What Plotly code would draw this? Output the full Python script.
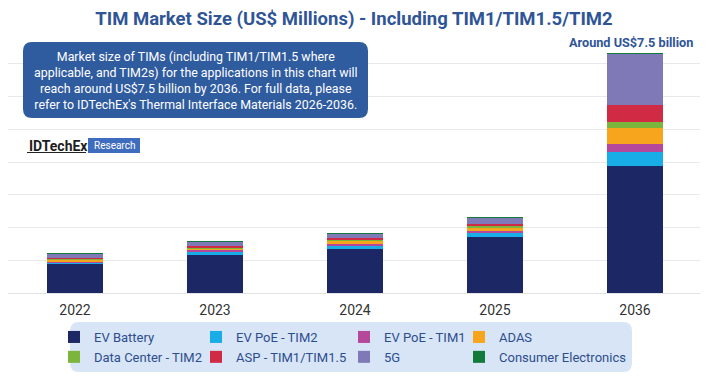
import plotly.graph_objects as go

years = ["2022", "2023", "2024", "2025", "2036"]
ev_battery = [900, 1170, 1350, 1700, 3890]
ev_poe_tim2 = [40, 90, 110, 140, 430]
ev_poe_tim1 = [30, 40, 50, 60, 225]
adas = [60, 70, 90, 110, 505]
data_center_tim2 = [15, 20, 25, 40, 185]
asp_tim1 = [30, 40, 50, 65, 510]
five_g = [120, 135, 155, 175, 1575]
consumer_electronics = [2, 2, 2, 2, 3]

series_names = ["EV Battery", "EV PoE - TIM2", "EV PoE - TIM1", "ADAS",
                "Data Center - TIM2", "ASP - TIM1/TIM1.5", "5G", "Consumer Electronics"]
series_values = [ev_battery, ev_poe_tim2, ev_poe_tim1, adas,
                 data_center_tim2, asp_tim1, five_g, consumer_electronics]
colors = ["#1b2865", "#18ade6", "#b6489b", "#f8a51e",
          "#7bb53c", "#d02a45", "#8079b8", "#137a3c"]
legend_ids = ["legend", "legend2", "legend3", "legend4",
              "legend", "legend2", "legend3", "legend4"]

# page has an 8px body margin: figure is 700x372 drawn from (8, 8)
OFF = 8
W_PX, H_PX = 700, 372
L, R, T, B = 0, 0, 23, 87
PW, PH = W_PX - L - R, H_PX - T - B


def px(x):
    """reference-page x -> paper x"""
    return (x - OFF - L) / PW


def py(y):
    """reference-page y -> paper y"""
    return (H_PX - B - (y - OFF)) / PH


def rounded_rect(x0, y0, x1, y1, r):
    rx, ry = r / PW, r / PH
    X0, X1 = px(x0), px(x1)
    Y0, Y1 = py(y0), py(y1)
    return (f"M{X0+rx},{Y0} L{X1-rx},{Y0} Q{X1},{Y0} {X1},{Y0-ry} "
            f"L{X1},{Y1+ry} Q{X1},{Y1} {X1-rx},{Y1} L{X0+rx},{Y1} "
            f"Q{X0},{Y1} {X0},{Y1+ry} L{X0},{Y0-ry} Q{X0},{Y0} {X0+rx},{Y0} Z")


fig = go.Figure()
for name, vals, col, lg in zip(series_names, series_values, colors, legend_ids):
    fig.add_trace(go.Bar(x=years, y=vals, name=name, marker_color=col,
                         marker_line_width=0, legend=lg))

font_col = "#2e4d8e"
legend_common = dict(orientation="v", xanchor="left", yanchor="top",
                     bgcolor="rgba(0,0,0,0)", borderwidth=0, traceorder="normal",
                     font=dict(family="Roboto", size=13, color=font_col),
                     tracegroupgap=0, itemwidth=30)
leg_y = py(322)

# category axis range chosen so the 140px category bands sit where the reference has them
cat_px = 140.0
first_center = 75.0
r0 = -(first_center - OFF) / cat_px
x_range = [r0, r0 + PW / cat_px]

fig.update_layout(
    width=W_PX, height=H_PX,
    margin=dict(l=L, r=R, t=T, b=B, autoexpand=False),
    paper_bgcolor="white", plot_bgcolor="white",
    barmode="stack", bargap=0.6,
    title=dict(text="<b>TIM Market Size (US$ Millions) - Including TIM1/TIM1.5/TIM2</b>",
               xref="container", yref="container", x=(354 - OFF) / W_PX, xanchor="center",
               y=1 - (19 - OFF) / H_PX, yanchor="middle",
               font=dict(family="Roboto", size=18.5, color="#2f5597")),
    xaxis=dict(type="category", range=x_range, showgrid=False, showline=False, ticks="",
               automargin=False, ticklabelstandoff=7,
               tickfont=dict(family="Roboto", size=14, color="#333333")),
    yaxis=dict(range=[0, 8000], dtick=1000, showticklabels=False, automargin=False,
               gridcolor="#e9e9e9", gridwidth=1, zeroline=True,
               zerolinecolor="#e2e2e2", zerolinewidth=1, showline=False),
    legend=dict(x=px(54), y=leg_y, **legend_common),
    legend2=dict(x=px(196), y=leg_y, **legend_common),
    legend3=dict(x=px(344), y=leg_y, **legend_common),
    legend4=dict(x=px(459), y=leg_y, **legend_common),
    shapes=[
        dict(type="path", xref="paper", yref="paper",
             path=rounded_rect(23, 42, 368, 118, 9),
             fillcolor="#2f5b9f", line=dict(width=0), layer="above"),
        dict(type="path", xref="paper", yref="paper",
             path=rounded_rect(70, 322, 632, 372, 9),
             fillcolor="#d7e5f6", line=dict(width=0), layer="below"),
        dict(type="rect", xref="paper", yref="paper",
             x0=px(88), x1=px(140), y0=py(153), y1=py(138),
             fillcolor="#3e6cbf", line=dict(width=0), layer="above"),
        dict(type="line", xref="paper", yref="paper",
             x0=px(27), x1=px(86), y0=py(152.5), y1=py(152.5),
             line=dict(color="#222222", width=1.2), layer="above"),
    ],
    annotations=[
        dict(xref="paper", yref="paper", x=px(195.5), y=py(80),
             xanchor="center", yanchor="middle", showarrow=False, align="center",
             text=("Market size of TIMs (including TIM1/TIM1.5 where<br>"
                   "applicable, and TIM2s) for the applications in this chart will<br>"
                   "reach around US$7.5 billion by 2036. For full data, please<br>"
                   "refer to IDTechEx's Thermal Interface Materials 2026-2036."),
             font=dict(family="Roboto", size=12.4, color="white")),
        dict(xref="paper", yref="paper", x=px(27), y=py(145.5),
             xanchor="left", yanchor="middle", showarrow=False,
             text="<b>IDTechEx</b>",
             font=dict(family="Roboto", size=14, color="#1e1e1e")),
        dict(xref="paper", yref="paper", x=px(114), y=py(145.5),
             xanchor="center", yanchor="middle", showarrow=False,
             text="Research",
             font=dict(family="Roboto", size=10, color="white")),
        dict(xref="x", yref="paper", x=years.index("2036") - 0.03, y=py(43),
             xanchor="center", yanchor="middle", showarrow=False,
             text="<b>Around US$7.5 billion</b>",
             font=dict(family="Roboto", size=12.7, color="#2f5597")),
    ],
)

fig.write_html("out.html")
